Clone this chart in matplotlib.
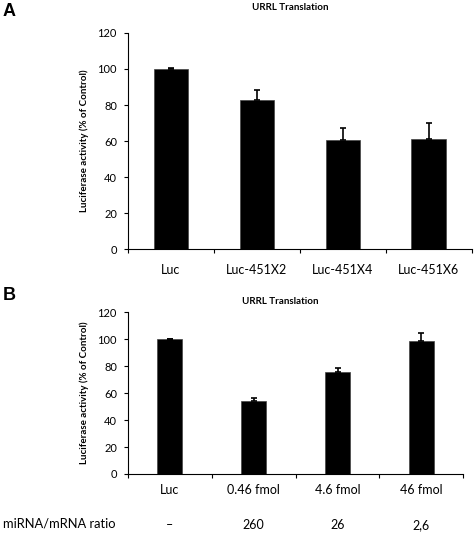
import numpy as np
import matplotlib
matplotlib.use("Agg")
import matplotlib.pyplot as plt
import matplotlib.transforms as mtransforms

plt.rcParams['font.family'] = ['Lato', 'DejaVu Sans']

# panel A data
labels_a = ["Luc", "Luc-451X2", "Luc-451X4", "Luc-451X6"]
vals_a = [100, 82.8, 60.5, 61.2]
err_a = [0.3, 5.4, 6.6, 8.8]

# panel B data
labels_b = ["Luc", "0.46 fmol", "4.6 fmol", "46 fmol"]
vals_b = [100, 54.2, 75.4, 98.5]
err_b = [0.4, 2.0, 3.3, 6.2]
ratios_b = ["\u2013", "260", "26", "2,6"]

fig = plt.figure(figsize=(4.75, 5.33), dpi=100)
axA = fig.add_axes([0.2695, 0.5328, 0.7232, 0.4053])
axB = fig.add_axes([0.2695, 0.1107, 0.7059, 0.3034])


def panel(ax, labels, vals, errs, width, lab_pad):
    x = np.arange(len(labels))
    ax.bar(x, vals, width=width, color='black', edgecolor='#444444', linewidth=0.5)
    ax.errorbar(x, vals, yerr=[np.zeros(len(errs)), errs], fmt='none',
                ecolor='black', elinewidth=1.2, capsize=2.5, capthick=1.2)
    ax.set_xlim(-0.5, len(labels) - 0.5)
    ax.set_ylim(0, 120)
    ax.set_yticks(range(0, 121, 20))
    # ticks sit between the categories, labels under the bars
    ax.set_xticks(np.arange(len(labels) + 1) - 0.5)
    ax.set_xticklabels([])
    ax.set_xticks(x, minor=True)
    ax.set_xticklabels(labels, minor=True, fontsize=9)
    ax.tick_params(axis='x', which='minor', length=0, pad=lab_pad)
    ax.tick_params(axis='x', which='major', length=3, direction='out', width=0.8)
    ax.tick_params(axis='y', length=3, direction='out', width=0.8, labelsize=8, pad=5)
    for s in ['top', 'right']:
        ax.spines[s].set_visible(False)
    for s in ['left', 'bottom']:
        ax.spines[s].set_linewidth(0.8)
    ax.set_ylabel("Luciferase activity (% of Control)", fontsize=7, fontweight='bold', labelpad=6)


panel(axA, labels_a, vals_a, err_a, 0.4, 11)
panel(axB, labels_b, vals_b, err_b, 0.3, 7)

fig.text(290 / 475, 1 - 7 / 533, "URRL Translation", ha='center', va='center',
         fontsize=7, fontweight='bold')
fig.text(280 / 475, 1 - 301 / 533, "URRL Translation", ha='center', va='center',
         fontsize=7, fontweight='bold')

# ratio row under panel B
trans = mtransforms.blended_transform_factory(axB.transData, fig.transFigure)
for i, r in enumerate(ratios_b):
    axB.text(i, 1 - 525 / 533, r, transform=trans, ha='center', va='center', fontsize=9)
fig.text(3 / 475, 1 - 524 / 533, "miRNA/mRNA ratio", ha='left', va='center', fontsize=9.3)

fig.text(3 / 475, 1 - 12 / 533, "A", ha='left', va='center', fontsize=13,
         fontweight='bold', family='Liberation Sans')
fig.text(3 / 475, 1 - 296 / 533, "B", ha='left', va='center', fontsize=13,
         fontweight='bold', family='Liberation Sans')

fig.savefig("out.png", dpi=100)
